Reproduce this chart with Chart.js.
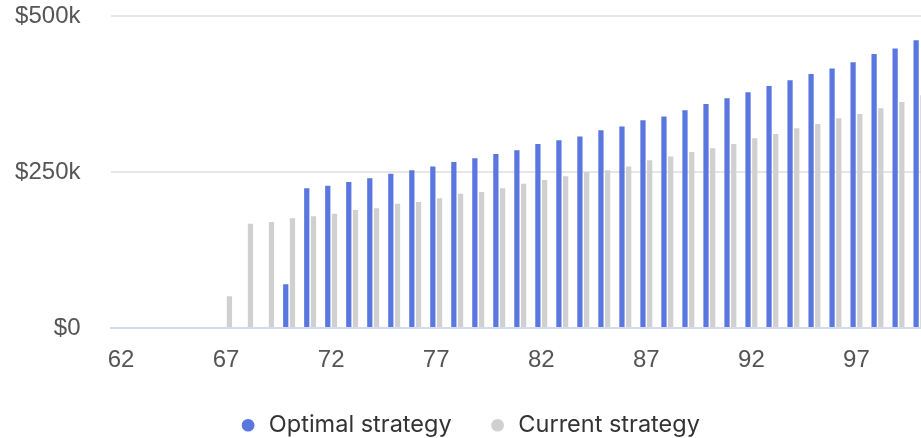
<!DOCTYPE html>
<html>
<head>
<meta charset="utf-8">
<script src="https://cdn.jsdelivr.net/npm/chart.js@4"></script>
<style>
  html, body { margin: 0; padding: 0; background: #fff; overflow: hidden; }
  #wrap { width: 930px; height: 438px; position: relative; }
</style>
</head>
<body>
<div id="wrap"><canvas id="c"></canvas></div>
<script>
const ages = [62,63,64,65,66,67,68,69,70,71,72,73,74,75,76,77,78,79,80,81,82,83,84,85,86,87,88,89,90,91,92,93,94,95,96,97,98,99,100];
const optimalStrategy = [0,0,0,0,0,0,0,0,70000,224000,228000,234000,240000,247000,253000,259000,266000,272000,279000,285000,295000,301000,307000,317000,323000,333000,339000,349000,359000,368000,378000,388000,397000,407000,416000,426000,439000,448000,461000];
const currentStrategy = [0,0,0,0,0,51000,167000,170000,176000,179000,183000,189000,192000,199000,202000,208000,215000,218000,224000,231000,237000,243000,250000,253000,259000,269000,275000,282000,288000,295000,304000,311000,320000,327000,336000,343000,352000,362000,373000];
const xTickLabels = [62,67,72,77,82,87,92,97];
const yTickValues = [0,250000,500000];
const seriesNames = ['Optimal strategy','Current strategy'];

new Chart(document.getElementById('c'), {
  type: 'bar',
  data: {
    labels: ages,
    datasets: [
      { label: seriesNames[0], data: optimalStrategy, backgroundColor: '#5a77df', borderWidth: 0,
        categoryPercentage: 0.64, barPercentage: 0.78 },
      { label: seriesNames[1], data: currentStrategy, backgroundColor: '#d0d0d0', borderWidth: 0,
        categoryPercentage: 0.64, barPercentage: 0.78 }
    ]
  },
  options: {
    responsive: true,
    maintainAspectRatio: false,
    animation: false,
    layout: { padding: { top: 16, left: 9, right: 0, bottom: -9 } },
    plugins: {
      tooltip: { enabled: false },
      legend: {
        position: 'bottom',
        labels: {
          usePointStyle: true, pointStyle: 'circle', boxWidth: 18, boxHeight: 9,
          padding: 37, color: '#333',
          font: { family: 'Inter', size: 23.5 }
        }
      }
    },
    scales: {
      x: {
        afterFit: function(s) { s.height = 48.5; },
        grid: { display: true, drawOnChartArea: false, drawTicks: true, tickLength: 18, tickColor: 'rgba(0,0,0,0)' },
        border: { display: true, color: '#d3dbf1', width: 2 },
        ticks: {
          autoSkip: false, maxRotation: 0, padding: 0, color: '#555',
          font: { family: 'Liberation Sans', size: 24 },
          callback: function(v, i) { const a = ages[i]; return xTickLabels.includes(a) ? String(a) : ''; }
        }
      },
      y: {
        min: 0, max: 500000,
        afterFit: function(s) { s.width = 101.5; },
        afterBuildTicks: function(s) { s.ticks = yTickValues.map(v => ({ value: v })); },
        grid: { color: '#e6e6e6', lineWidth: 2, drawTicks: true, tickLength: 30, tickColor: 'rgba(0,0,0,0)' },
        border: { display: false },
        ticks: {
          padding: 0, color: '#555',
          font: { family: 'Liberation Sans', size: 24 },
          callback: function(v) { return v === 0 ? '$0' : '$' + (v / 1000) + 'k'; }
        }
      }
    }
  }
});
</script>
</body>
</html>
